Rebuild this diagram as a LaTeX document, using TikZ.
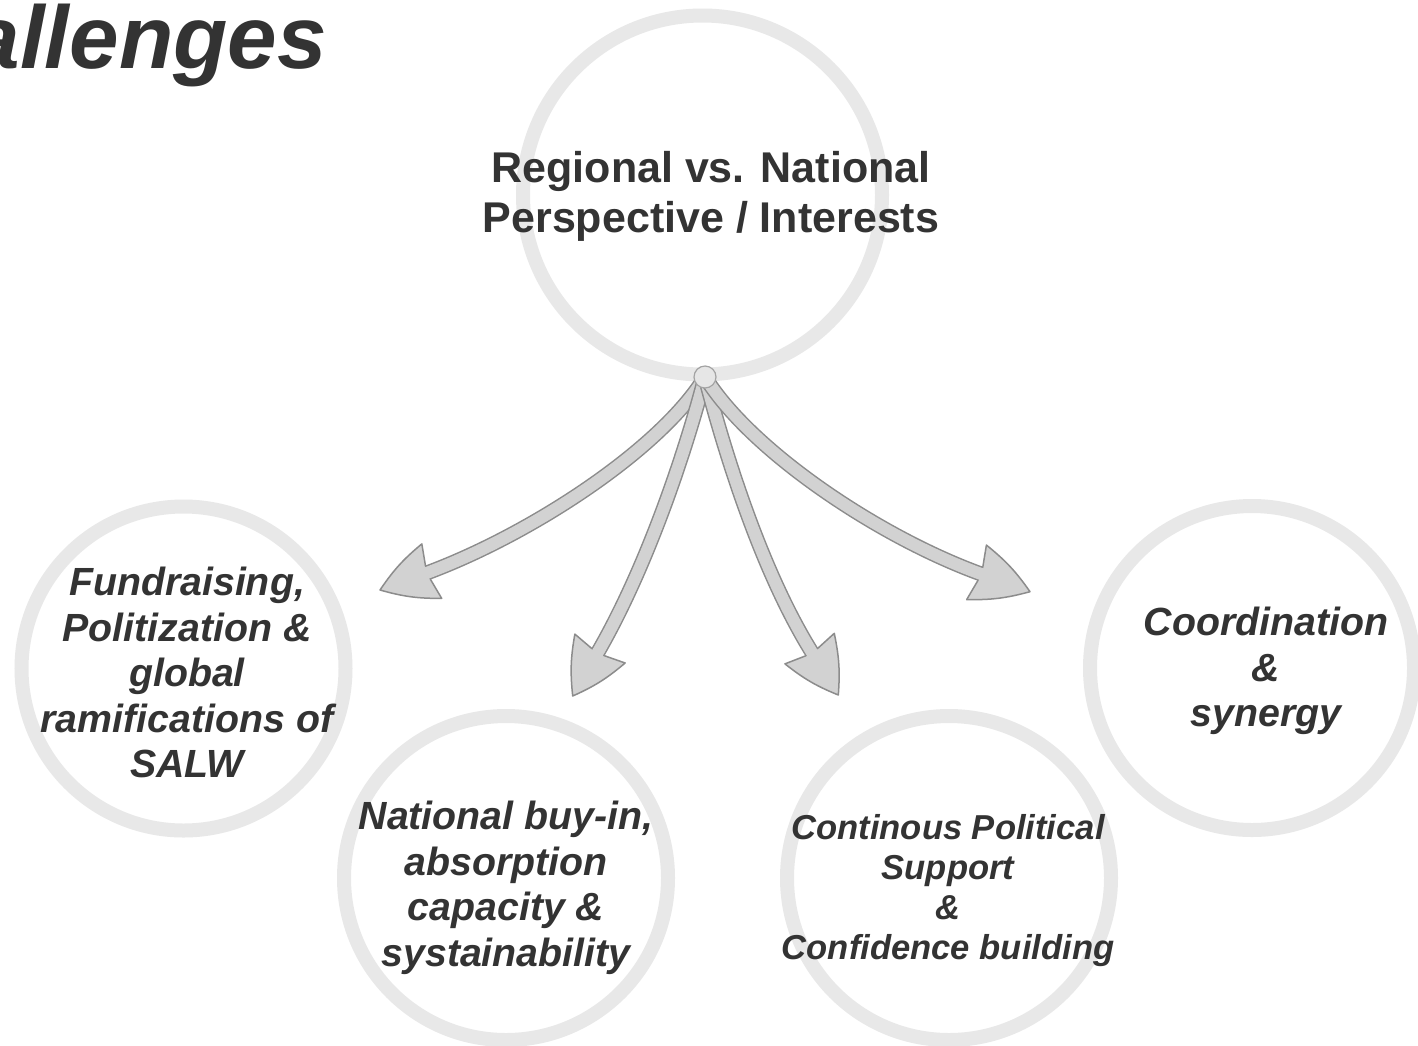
\documentclass[tikz,border=0pt]{standalone}
\usepackage{fontspec}
\setmainfont{Liberation Sans}
\usetikzlibrary{calc}
\definecolor{ringc}{HTML}{E8E8E8}
\definecolor{txt}{HTML}{333333}
\definecolor{afill}{HTML}{D2D2D2}
\definecolor{aline}{HTML}{8C8C8C}
\definecolor{hubfill}{HTML}{E6E6E6}
\newcommand\fatarrow[5]{%
  \draw[shaftout] (#1) .. controls (#2) and (#3) .. (#4);
  \draw[headst] (#5) to[bend right=8] ($(#4)!-4pt!(#5) + (#4)!29pt!90:(#5) - (#4)$)
    -- ($(#4)!7.5pt!90:(#5)$) -- ($(#4)!7.5pt!-90:(#5)$)
    -- ($(#4)!-4pt!(#5) + (#4)!29pt!-90:(#5) - (#4)$) to[bend right=8] (#5) -- cycle;
  \draw[shaftin] (#1) .. controls (#2) and (#3) .. (#4) -- ($(#4)!4pt!(#5)$);
}
\begin{document}
\begin{tikzpicture}[x=1pt,y=-1pt,
  ring/.style={circle, draw=ringc, line width=14pt, inner sep=0pt},
  lbl/.style={text=txt, align=center, inner sep=0pt, font=\bfseries\itshape\fontsize{39.3}{45.5}\selectfont},
  lblsmall/.style={lbl, font=\bfseries\itshape\fontsize{34.6}{40}\selectfont},
  shaftout/.style={draw=aline, line width=15pt},
  shaftin/.style={draw=afill, line width=12pt},
  headst/.style={fill=afill, draw=aline, line width=1.5pt, line join=round},
  hubst/.style={circle, fill=hubfill, draw=aline!80, line width=1.2pt, minimum size=22pt, inner sep=0pt}]
\useasboundingbox (0,0) rectangle (1418,1045);
\clip (0,0) rectangle (1418,1045);
\fill[white] (0,0) rectangle (1418,1045);

% title
\node[anchor=base east, inner sep=0pt, text=txt, font=\bfseries\itshape\fontsize{89}{100}\selectfont] (title) at (327,68) {Challenges};

% rings
\node[ring, minimum size=359pt] (ctop) at (702.5,195) {};
\node[ring, minimum size=324pt] (cfund) at (183.5,668.5) {};
\node[ring, minimum size=324pt] (cnat) at (506,878) {};
\node[ring, minimum size=324pt] (ccont) at (949,878) {};
\node[ring, minimum size=324pt] (ccoord) at (1252,668) {};

% hub and arrows
\coordinate (hubc) at (705,377);
\coordinate (b1) at (428,572.5); \coordinate (t1) at (380,590);
\coordinate (b2) at (598,652);   \coordinate (t2) at (572.7,696);
\coordinate (b3) at (811.7,652); \coordinate (t3) at (838.3,695);
\coordinate (b4) at (980.3,573.7); \coordinate (t4) at (1030,591.7);
\coordinate (p1a) at (660,450); \coordinate (p1b) at (531,534);
\coordinate (p2a) at (682,465); \coordinate (p2b) at (643,574);
\coordinate (p3a) at (728,465); \coordinate (p3b) at (764,575);
\coordinate (p4a) at (750,450); \coordinate (p4b) at (877,536);
\fatarrow{hubc}{p1a}{p1b}{b1}{t1}
\fatarrow{hubc}{p2a}{p2b}{b2}{t2}
\fatarrow{hubc}{p3a}{p3b}{b3}{t3}
\fatarrow{hubc}{p4a}{p4b}{b4}{t4}
\node[hubst] (hub) at (hubc) {};

% texts
\node[text=txt, align=center, inner sep=0pt, font=\bfseries\fontsize{43}{50}\selectfont] (toptxt) at (711,196) {Regional vs. National\\Perspective / Interests};
\node[lbl] (tfund) at (187,672.5) {Fundraising,\\Politization \&\\global\\ramifications of\\SALW};
\node[lbl] (tnat) at (506,888) {National buy-in,\\absorption\\capacity \&\\systainability};
\node[lblsmall] (tcont) at (948,890.5) {Continous Political\\Support\\\&\\Confidence building};
\node[lbl] (tcoord) at (1266,671) {Coordination\\\&\\synergy};
\end{tikzpicture}
\end{document}
